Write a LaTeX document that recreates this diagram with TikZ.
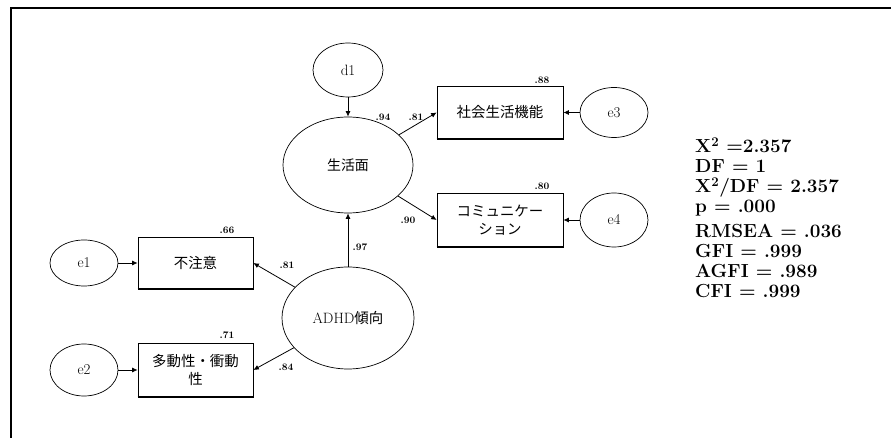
\documentclass[tikz,border=0pt]{standalone}
\usepackage{fontspec}
\newfontfamily\jp{Noto Sans CJK JP}
\usetikzlibrary{arrows.meta,shapes.geometric}
\begin{document}
\begin{tikzpicture}[x=1bp,y=-1bp,
  lat/.style={draw, ellipse, inner sep=0, line width=0.7bp, font=\fontsize{15}{17}\selectfont},
  obs/.style={draw, rectangle, inner sep=0, line width=0.7bp, minimum width=#1, align=center, font=\jp\fontsize{14.5}{18}\selectfont},
  arr/.style={-{Latex[length=5.5bp,width=5bp]}, line width=0.8bp},
  lbl/.style={inner sep=0, font=\bfseries\fontsize{10}{10}\selectfont},
  stat/.style={anchor=base west, inner sep=0, font=\bfseries\fontsize{19}{20}\selectfont}]
\useasboundingbox (0,0) rectangle (891,438);
\fill[white] (0,0) rectangle (891,438);
% frame
\draw[line width=1.4bp] (891,8) -- (11,8) -- (11,438);

% latent / error ellipses
\node[lat, minimum width=70bp, minimum height=54bp] (d1) at (348,70) {d1};
\node[lat, minimum width=130bp, minimum height=96bp, font=\jp\fontsize{14}{16}\selectfont] (g) at (348,165) {生活面};
\node[lat, minimum width=68bp, minimum height=50bp] (e3) at (614,112.5) {e3};
\node[lat, minimum width=68bp, minimum height=54bp] (e4) at (614,220) {e4};
\node[lat, minimum width=68bp, minimum height=46bp] (e1) at (84,263) {e1};
\node[lat, minimum width=68bp, minimum height=52bp] (e2) at (84,370) {e2};
\node[lat, minimum width=132bp, minimum height=102bp] (adhd) at (348,318) {ADHD{\jp\fontsize{14.5}{16}\selectfont 傾向}};

% observed boxes
\node[obs=126bp, minimum height=53bp] (b3) at (500,112.5) {社会生活機能};
\node[obs=126bp, minimum height=54bp] (b4) at (500,220) {コミュニケー\\ション};
\node[obs=115bp, minimum height=52bp] (b1) at (195.5,263) {不注意};
\node[obs=115bp, minimum height=54bp] (b2) at (195.5,370) {多動性・衝動\\性};
\foreach \b in {b1,b2,b3,b4}
  \draw[line width=1.8bp] (\b.south west) -- (\b.south east);

% paths
\draw[arr] (d1.south) -- (g.north);
\draw[arr] (g) -- (b3.west);
\draw[arr] (g) -- (b4.west);
\draw[arr] (e3.west) -- (b3.east);
\draw[arr] (e4.west) -- (b4.east);
\draw[arr] (adhd.north) -- (g.south);
\draw[arr] (adhd) -- (b1.east);
\draw[arr] (adhd) -- (b2.east);
\draw[arr] (e1.east) -- (b1.west);
\draw[arr] (e2.east) -- (b2.west);

% coefficient labels
\node[lbl] (l88) at (542,80) {.88};
\node[lbl] (l80) at (542,186) {.80};
\node[lbl] (l94) at (383,117) {.94};
\node[lbl] (l81a) at (416,117) {.81};
\node[lbl] (l90) at (408,220) {.90};
\node[lbl] (l97) at (360,247) {.97};
\node[lbl] (l66) at (227,230) {.66};
\node[lbl] (l81b) at (287,265) {.81};
\node[lbl] (l71) at (227,335) {.71};
\node[lbl] (l84) at (286,367) {.84};

% fit statistics
\node[stat] (s1) at (695,153) {X\textsuperscript{2} =2.357};
\node[stat] (s2) at (695,173) {DF = 1};
\node[stat] (s3) at (695,193) {X\textsuperscript{2}/DF = 2.357};
\node[stat] (s4) at (695,213) {p = .000};
\node[stat] (s5) at (695,238) {RMSEA = .036};
\node[stat] (s6) at (695,258) {GFI = .999};
\node[stat] (s7) at (695,278) {AGFI = .989};
\node[stat] (s8) at (695,298) {CFI = .999};
\end{tikzpicture}
\end{document}
